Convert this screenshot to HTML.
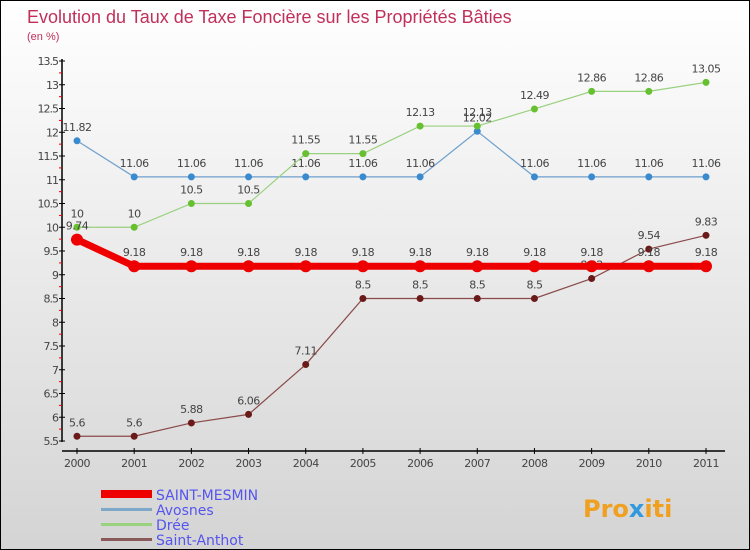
<!DOCTYPE html>
<html><head><meta charset="utf-8"><style>
body{margin:0}
#c{width:750px;height:550px;position:relative;overflow:hidden;box-sizing:border-box;border:1px solid #000;background:linear-gradient(#ffffff,#d4d4d4);font-family:"DejaVu Sans","Liberation Sans",sans-serif}
svg text{font-family:"DejaVu Sans","Liberation Sans",sans-serif}
</style></head><body>
<div id="c">
<svg id="s" width="750" height="550">
<text x="26" y="22" font-size="18" fill="#c0305a" style="font-family:'Liberation Sans',sans-serif">Evolution du Taux de Taxe Foncière sur les Propriétés Bâties</text>
<text x="26" y="39" font-size="11" fill="#c0305a" style="font-family:'Liberation Sans',sans-serif">(en %)</text>
<g id="g"></g>
<g>
<rect x="100" y="489" width="51" height="8" fill="#ee0000"/>
<text x="155" y="499" font-size="14" fill="#5555ee">SAINT-MESMIN</text>
<rect x="100" y="507" width="51" height="3" fill="#7fa8c8"/>
<text x="155" y="514" font-size="14" fill="#5555ee">Avosnes</text>
<rect x="100" y="522" width="51" height="3" fill="#99d17f"/>
<text x="155" y="529" font-size="14" fill="#5555ee">Drée</text>
<rect x="100" y="537" width="51" height="3" fill="#8a5a5a"/>
<text x="155" y="544" font-size="14" fill="#5555ee">Saint-Anthot</text>
</g>
<text x="582" y="516" font-size="24" font-weight="bold" fill="#f0a020">Pro<tspan fill="#3399dd">x</tspan>iti</text>
</svg>
</div>
<script>
const years=["2000","2001","2002","2003","2004","2005","2006","2007","2008","2009","2010","2011"];
const yTicks=[5.5,6,6.5,7,7.5,8,8.5,9,9.5,10,10.5,11,11.5,12,12.5,13,13.5];
const saintMesmin=[9.74,9.18,9.18,9.18,9.18,9.18,9.18,9.18,9.18,9.18,9.18,9.18];
const avosnes=[11.82,11.06,11.06,11.06,11.06,11.06,11.06,12.02,11.06,11.06,11.06,11.06];
const dree=[10,10,10.5,10.5,11.55,11.55,12.13,12.13,12.49,12.86,12.86,13.05];
const saintAnthot=[5.6,5.6,5.88,6.06,7.11,8.5,8.5,8.5,8.5,8.92,9.54,9.83];
const NS="http://www.w3.org/2000/svg";
const g=document.getElementById('g');
const X=i=>76+i*(705-76)/11;
const Y=v=>440-(v-5.5)*(440-60)/8;
function el(t,a,p){const e=document.createElementNS(NS,t);for(const k in a)e.setAttribute(k,a[k]);(p||g).appendChild(e);return e;}
let ax=el('line',{x1:61,y1:58,x2:61,y2:441,stroke:'#000','stroke-width':1.5});


let xx=el('line',{x1:61,y1:450,x2:724,y2:450,stroke:'#000','stroke-width':1.5});


yTicks.forEach(v=>{
  el('line',{x1:58,y1:Y(v),x2:64,y2:Y(v),stroke:'#000'});
  if(v>5.5) el('line',{x1:58,y1:Y(v)+11.9,x2:61,y2:Y(v)+11.9,stroke:'#e00'});
  const t=el('text',{x:57,y:Y(v)+4,'font-size':11,'text-anchor':'end',fill:'#444','letter-spacing':'-1'});
  t.textContent=String(v);
  
  
});
years.forEach((y,i)=>{
  el('line',{x1:X(i),y1:447,x2:X(i),y2:453,stroke:'#000'});
  const t=el('text',{x:X(i),y:466,'font-size':11,'text-anchor':'middle',fill:'#444','letter-spacing':'-0.5'});
  t.textContent=y;
  
  
});
function series(vals,color,dot,w,r,name){
  const l=el('polyline',{points:vals.map((v,i)=>X(i)+','+Y(v)).join(' '),fill:'none',stroke:color,'stroke-width':w});
  
  
  vals.forEach((v,i)=>{
    const c=el('circle',{cx:X(i),cy:Y(v),r:r,fill:dot});
    
    
    const t=el('text',{x:X(i),y:Y(v)-10,'font-size':11,'text-anchor':'middle',fill:'#444','letter-spacing':'-0.5'});
    t.textContent=String(v);
    
    
  });
}
series(avosnes,'#6fa0cc','#3a8ad0',1.2,3.5,'avosnes');
series(dree,'#99d17f','#66c030',1.2,3.5,'dree');
series(saintAnthot,'#8a4a4a','#6b1a1a',1.2,3.5,'saint-anthot');
series(saintMesmin,'#ee0000','#ee0000',7,6,'saint-mesmin');
</script>
</body></html>
